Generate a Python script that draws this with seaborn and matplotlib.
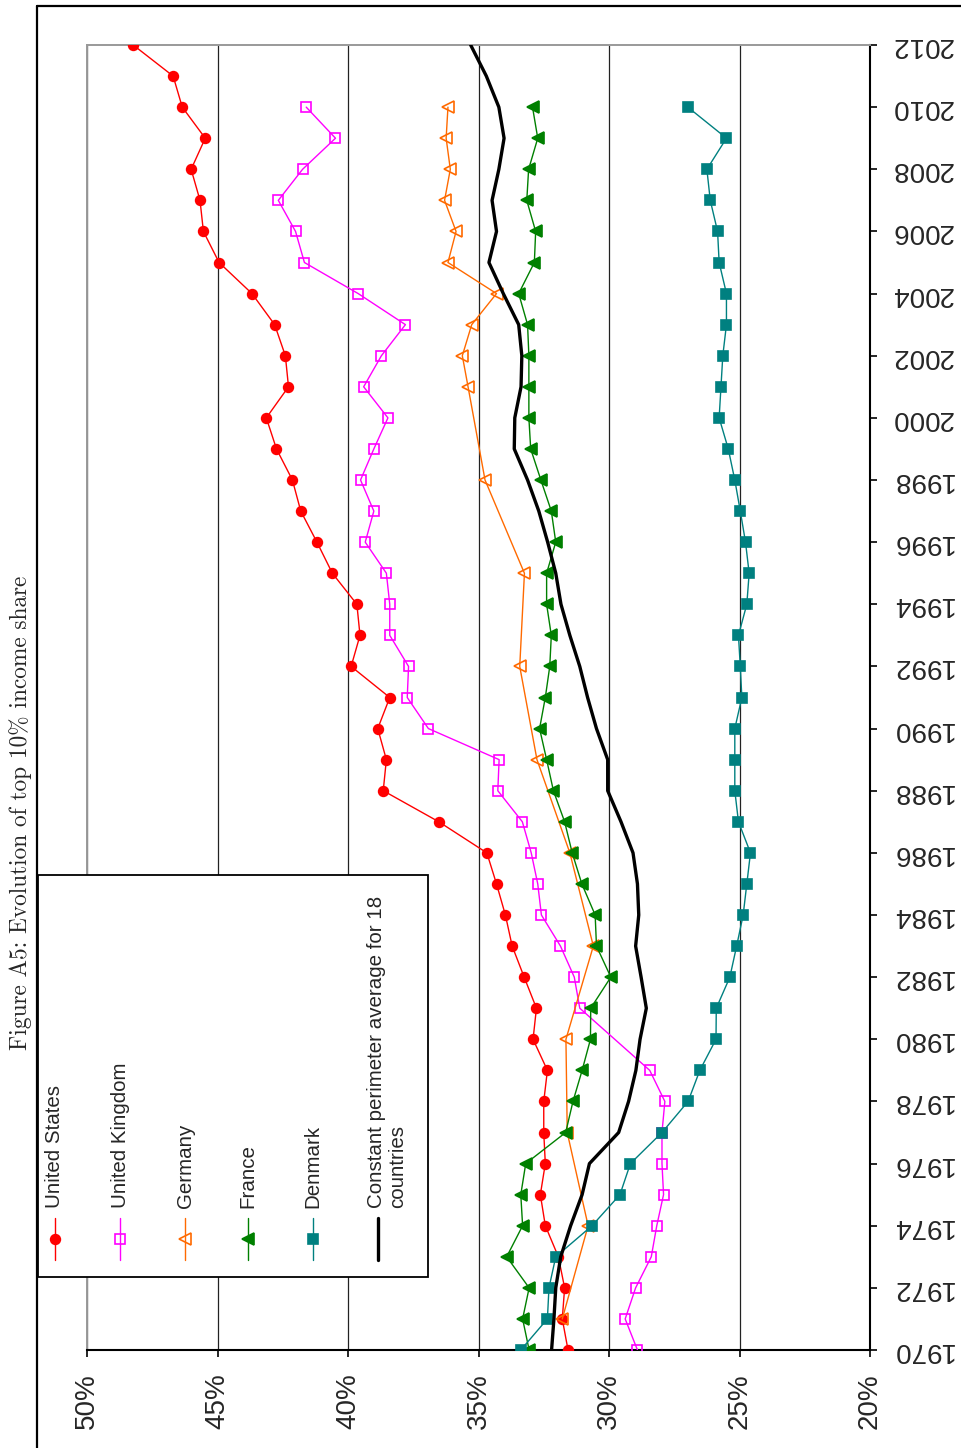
import matplotlib
matplotlib.use("Agg")
import matplotlib.pyplot as plt
import seaborn as sns
import pandas as pd
from matplotlib.lines import Line2D
from matplotlib.patches import Rectangle

years = list(range(1970, 2013))
years_2010 = list(range(1970, 2011))
uk_years = [y for y in years_2010 if y != 1980]
de_years = [1971, 1974, 1977, 1980, 1983, 1986, 1989, 1992, 1995, 1998,
            2001, 2002, 2003, 2004, 2005, 2006, 2007, 2008, 2009, 2010]

us = [31.57, 31.79, 31.70, 31.94, 32.44, 32.63, 32.44, 32.50, 32.50, 32.36,
      32.91, 32.78, 33.25, 33.71, 33.97, 34.31, 34.68, 36.52, 38.65, 38.53,
      38.86, 38.40, 39.88, 39.54, 39.66, 40.60, 41.19, 41.81, 42.13, 42.74,
      43.13, 42.28, 42.40, 42.81, 43.68, 44.94, 45.54, 45.67, 46.01, 45.47,
      46.35, 46.70, 48.23]
uk = [28.91, 29.38, 28.98, 28.38, 28.17, 27.91, 27.97, 27.97, 27.86, 28.44,
      31.12, 31.33, 31.86, 32.59, 32.73, 32.98, 33.32, 34.26, 34.21,
      36.92, 37.73, 37.68, 38.40, 38.40, 38.53, 39.34, 39.01, 39.52, 39.01,
      38.47, 39.40, 38.72, 37.80, 39.61, 41.67, 42.01, 42.67, 41.74, 40.48,
      41.60]
germany = [31.79, 30.80, 31.60, 31.65, 30.60, 31.50, 32.76, 33.42, 33.24, 34.75,
           35.40, 35.62, 35.26, 34.31, 36.17, 35.86, 36.30, 36.08, 36.24, 36.17]
france = [33.06, 33.31, 33.06, 33.92, 33.31, 33.38, 33.19, 31.66, 31.38, 31.03,
          30.71, 30.70, 29.93, 30.48, 30.53, 31.04, 31.41, 31.70, 32.13, 32.39,
          32.66, 32.44, 32.27, 32.21, 32.39, 32.39, 32.04, 32.21, 32.61, 33.00,
          33.07, 33.07, 33.07, 33.12, 33.46, 32.86, 32.81, 33.15, 33.08, 32.73,
          32.93]
denmark = [33.38, 32.36, 32.30, 32.04, 30.65, 29.58, 29.18, 27.97, 26.97, 26.52,
           25.90, 25.89, 25.37, 25.11, 24.86, 24.72, 24.58, 25.04, 25.18, 25.18,
           25.18, 24.91, 24.97, 25.04, 24.72, 24.63, 24.77, 24.97, 25.18, 25.43,
           25.78, 25.71, 25.64, 25.50, 25.50, 25.78, 25.84, 26.12, 26.25, 25.50,
           26.98]
average = [32.20, 32.11, 32.04, 31.85, 31.47, 31.03, 30.75, 29.63, 29.25, 28.97,
           28.81, 28.57, 28.77, 28.98, 28.86, 28.91, 29.08, 29.54, 30.05, 30.05,
           30.48, 30.82, 31.12, 31.50, 31.84, 32.04, 32.35, 32.69, 33.12, 33.63,
           33.61, 33.37, 33.34, 33.46, 34.05, 34.60, 34.31, 34.48, 34.22, 34.02,
           34.22, 34.70, 35.30]

share_ticks = [50, 45, 40, 35, 30, 25, 20]
year_ticks = list(range(1970, 2013, 2))
title = "Figure A5: Evolution of top 10% income share"

series = [
    ("United States", years, us, "#ff0000", "o", "#ff0000", 7),
    ("United Kingdom", uk_years, uk, "#ff00ff", "s", "none", 7),
    ("Germany", de_years, germany, "#ff6a00", "<", "none", 8),
    ("France", years_2010, france, "#008000", "<", "#008000", 8),
    ("Denmark", years_2010, denmark, "#008080", "s", "#008080", 7.5),
]

sns.set_theme(style="white")
plt.rcParams["font.family"] = ["Liberation Sans", "DejaVu Sans"]

fig = plt.figure(figsize=(9.61, 14.48), dpi=100)
ax = fig.add_axes([87 / 961, 1 - 1350 / 1448, 783 / 961, 1305 / 1448])

for name, yrs, vals, color, marker, face, ms in series:
    df = pd.DataFrame({"year": yrs, "share": vals})
    sns.lineplot(data=df, x="share", y="year", orient="y", ax=ax, color=color,
                 linewidth=1.0, marker=marker, markersize=ms,
                 markerfacecolor=face, markeredgecolor=color, markeredgewidth=1.2,
                 zorder=3)

df_avg = pd.DataFrame({"year": years, "share": average})
sns.lineplot(data=df_avg, x="share", y="year", orient="y", ax=ax,
             color="black", linewidth=2.4, zorder=4)

ax.set_xlim(50, 20)
ax.set_ylim(1970, 2012)
ax.set_xticks(share_ticks)
ax.set_xticklabels([f"{t}%" for t in share_ticks])
ax.set_yticks(year_ticks)
ax.set_yticklabels([str(y) for y in year_ticks])
ax.set_xlabel("")
ax.set_ylabel("")

ax.yaxis.tick_right()
ax.tick_params(axis="x", bottom=True, direction="out", length=5, width=1.2,
               color="black", pad=12, labelsize=20, labelrotation=90)
ax.tick_params(axis="y", right=True, left=False, direction="out", length=5,
               width=1.2, color="black", pad=10, labelsize=20, labelrotation=180)
for lab in ax.get_yticklabels():
    lab.set_va("center")

ax.grid(axis="x", color="#222222", linewidth=0.9)
ax.grid(axis="y", visible=False)
for side in ["left", "top"]:
    ax.spines[side].set_color("#999999")
    ax.spines[side].set_linewidth(1.4)
for side in ["bottom", "right"]:
    ax.spines[side].set_color("black")
    ax.spines[side].set_linewidth(1.5)

# page frame
fig.add_artist(Line2D([37 / 961, 37 / 961], [0, 1 - 6 / 1448], color="black",
                      linewidth=1.6, transform=fig.transFigure))
fig.add_artist(Line2D([37 / 961, 1], [1 - 6 / 1448, 1 - 6 / 1448], color="black",
                      linewidth=1.6, transform=fig.transFigure))

# title, rotated like the page
fig.text(21 / 961, 1 - 1050 / 1448, title, rotation=90, rotation_mode="anchor",
         ha="left", va="center", fontsize=16.8, family="cmr10")

# rotated legend, drawn by hand
W, H = 961, 1448
fig.add_artist(Rectangle((38 / W, 1 - 1277 / H), 390 / W, 402 / H,
                         transform=fig.transFigure, facecolor="white",
                         edgecolor="black", linewidth=1.3, zorder=5))
leg_x = [55, 120, 185, 248, 313]
for (name, yrs, vals, color, marker, face, ms), lx in zip(series, leg_x):
    fig.add_artist(Line2D([lx / W, lx / W], [1 - 1260 / H, 1 - 1218 / H],
                          color=color, linewidth=1.0, transform=fig.transFigure,
                          zorder=6))
    fig.add_artist(Line2D([lx / W], [1 - 1239 / H], color=color, marker=marker,
                          markersize=ms, markerfacecolor=face,
                          markeredgecolor=color, markeredgewidth=1.2,
                          linestyle="none", transform=fig.transFigure, zorder=6))
    fig.text(lx / W, 1 - 1208 / H, name, rotation=90, rotation_mode="anchor",
             ha="left", va="center", fontsize=14.8, zorder=7)
fig.add_artist(Line2D([378 / W, 378 / W], [1 - 1260 / H, 1 - 1218 / H],
                      color="black", linewidth=2.4, transform=fig.transFigure,
                      zorder=6))
fig.text(367 / W, 1 - 1208 / H, "Constant perimeter average for 18\ncountries",
         rotation=90, rotation_mode="anchor", ha="left", va="top",
         fontsize=14.8, linespacing=1.15, multialignment="left", zorder=7)

fig.savefig("out.png", dpi=100)
